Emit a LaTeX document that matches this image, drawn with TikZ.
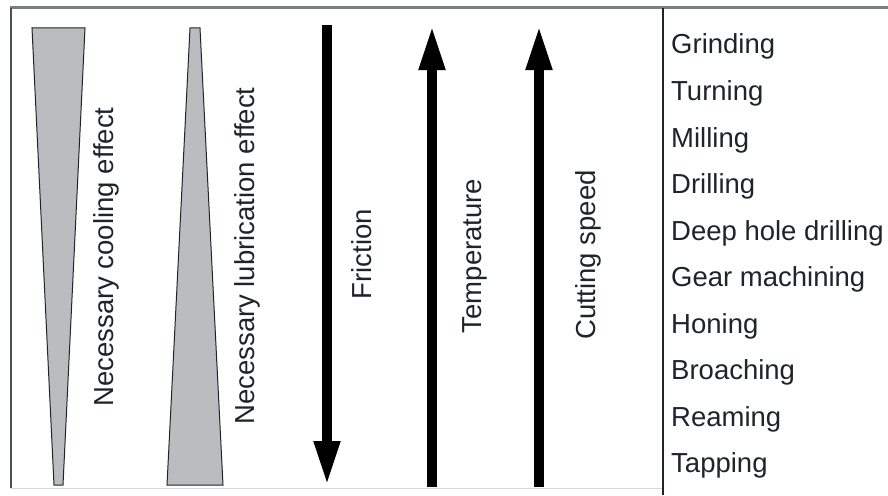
\documentclass[tikz,border=0pt]{standalone}
\usepackage{fontspec}
\setsansfont{Liberation Sans}
\usetikzlibrary{arrows.meta, positioning}
\definecolor{wedgeGray}{RGB}{186,188,191}
\definecolor{frameGray}{RGB}{122,126,126}
\definecolor{edgeDark}{RGB}{30,36,44}

\begin{document}
\begin{tikzpicture}[
    x=1pt, y=-1pt,
    wedge/.style={draw=edgeDark, line width=1pt, fill=wedgeGray},
    trend/.style={line width=10pt, black, -{Triangle[length=45pt, width=24pt]}},
    vlabel/.style={rotate=90, font=\sffamily\fontsize{27.5}{32}\selectfont, text=edgeDark, inner sep=0pt},
    process/.style={anchor=base west, font=\sffamily\fontsize{27.5}{32}\selectfont, text=edgeDark, inner sep=0pt}
]
\useasboundingbox (0,0) rectangle (888,495);

% Frame
\draw[frameGray, line width=3pt] (10,8) -- (888,8);
\draw[edgeDark!80, line width=1.2pt] (11,8) -- (11,488);
\draw[gray!30, line width=1pt] (11,488) -- (663,488);
\draw[edgeDark, line width=1.5pt] (663,8) -- (663,495);

% Wedges
\draw[wedge] (32,28) -- (85,28) -- (63,485) -- (54,485) -- cycle;
\draw[wedge] (190,28) -- (200,28) -- (223,485) -- (167,485) -- cycle;
\node[vlabel] (cooling) at (106,257) {Necessary cooling effect};
\node[vlabel] (lubrication) at (247,256) {Necessary lubrication effect};

% Trend arrows
\coordinate (frictionTop) at (327,25);
\coordinate (frictionEnd) at (327,486);
\coordinate (tempBottom) at (432,487);
\coordinate (tempTop) at (432,25);
\coordinate (speedBottom) at (539,487);
\coordinate (speedTop) at (539,25);
\draw[trend] (frictionTop) -- (frictionEnd);
\draw[trend] (tempBottom) -- (tempTop);
\draw[trend] (speedBottom) -- (speedTop);
\node[vlabel] (friction) at (362,254) {Friction};
\node[vlabel] (temperature) at (475,256) {Temperature};
\node[vlabel] (speed) at (588,255) {Cutting speed};

% Processes
\foreach \name [count=\i from 0] in {Grinding, Turning, Milling, Drilling, Deep hole drilling, Gear machining, Honing, Broaching, Reaming, Tapping}
    \node[process] (proc\i) at (671, 54+46.5*\i) {\name};
\end{tikzpicture}
\end{document}
